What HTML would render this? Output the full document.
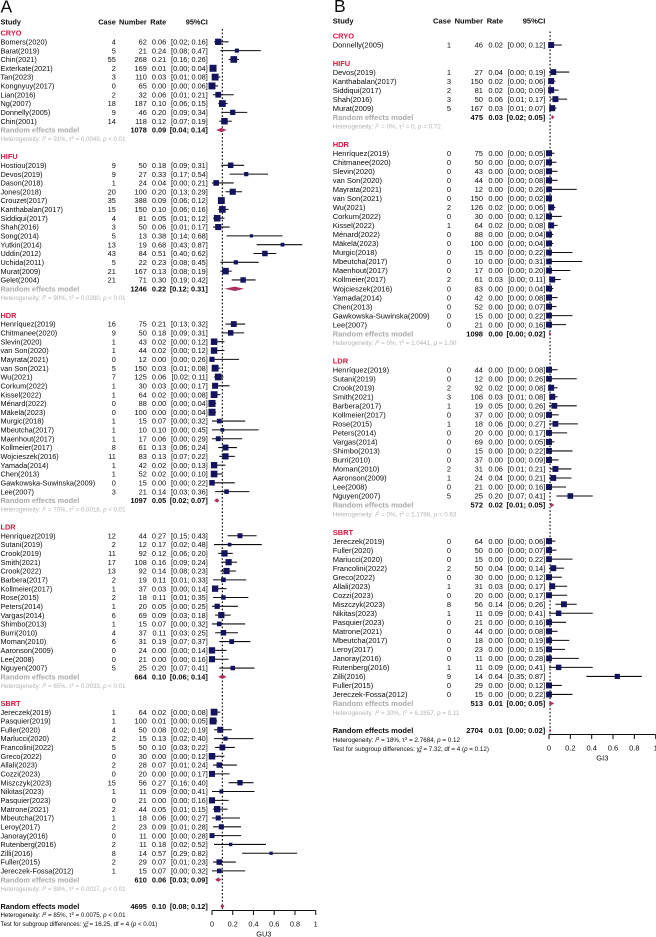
<!DOCTYPE html>
<html lang="en">
<head>
<meta charset="utf-8">
<title>Forest plots GU3 and GI3</title>
<style>
html,body{margin:0;padding:0;background:#fff;width:656px;height:937px;overflow:hidden}
svg{display:block;font-family:"Liberation Sans",sans-serif;filter:blur(.2px)}
text{fill:#0c0c0c;white-space:pre}
.b{font-weight:bold}
.hdr{font-weight:bold;fill:#0c0c0c}
.grp{font-weight:bold;fill:#d3153f}
.rem{font-weight:bold;fill:#aaaaaa}
.het{fill:#b4b4b4}
.hetAll{fill:#0c0c0c}
</style>
</head>
<body>
<svg id="figure" xmlns="http://www.w3.org/2000/svg" width="656" height="937" viewBox="0 0 656 937">
  <rect x="0" y="0" width="656" height="937" fill="#fff"></rect>
  <text x="0.5" y="12.6" font-size="17.5">A</text>
  <text x="334" y="12.2" font-size="17.5">B</text>
</svg>
<script>
/* ---------- Panel A (GU3) data ---------- */
const panelAGroups = ["CRYO", "HIFU", "HDR", "LDR", "SBRT"];
const panelAGroupSizes = [10, 14, 20, 16, 19];
const panelAStudies = [
"Bomers(2020)","Barat(2019)","Chin(2021)","Exterkate(2021)","Tan(2023)","Kongnyuy(2017)","Lian(2016)","Ng(2007)","Donnelly(2005)","Chin(2001)",
"Hostiou(2019)","Devos(2019)","Dason(2018)","Jones(2018)","Crouzet(2017)","Kanthabalan(2017)","Siddiqui(2017)","Shah(2016)","Song(2014)","Yutkin(2014)","Uddin(2012)","Uchida(2011)","Murat(2009)","Gelet(2004)",
"Henríquez(2019)","Chitmanee(2020)","Slevin(2020)","van Son(2020)","Mayrata(2021)","van Son(2021)","Wu(2021)","Corkum(2022)","Kissel(2022)","Ménard(2022)","Mäkelä(2023)","Murgic(2018)","Mbeutcha(2017)","Maenhout(2017)","Kollmeier(2017)","Wojcieszek(2016)","Yamada(2014)","Chen(2013)","Gawkowska-Suwinska(2009)","Lee(2007)",
"Henríquez(2019)","Sutani(2019)","Crook(2019)","Smith(2021)","Crook(2022)","Barbera(2017)","Kollmeier(2017)","Rose(2015)","Peters(2014)","Vargas(2014)","Shimbo(2013)","Burri(2010)","Moman(2010)","Aaronson(2009)","Lee(2008)","Nguyen(2007)",
"Jereczek(2019)","Pasquier(2019)","Fuller(2020)","Marlucci(2020)","Francolini(2022)","Greco(2022)","Allali(2023)","Cozzi(2023)","Miszczyk(2023)","Nikitas(2023)","Pasquier(2023)","Matrone(2021)","Mbeutcha(2017)","Leroy(2017)","Janoray(2016)","Rutenberg(2016)","Zilli(2016)","Fuller(2015)","Jereczek-Fossa(2012)"];
const panelACases = [4,5,55,2,3,0,2,18,9,14, 9,9,1,20,35,15,4,3,5,13,43,5,21,21, 16,9,1,1,0,5,7,1,1,0,0,1,1,1,8,11,1,1,0,3, 12,2,11,17,13,2,1,2,1,6,1,4,6,0,0,5, 1,1,4,2,5,0,2,0,15,1,0,2,1,2,0,2,8,2,1];
const panelANumbers = [62,21,268,169,110,65,32,187,46,118, 50,27,24,100,388,150,81,50,13,19,84,22,167,71, 75,50,43,44,12,150,125,30,64,88,100,15,10,17,61,83,42,52,15,21, 44,12,92,108,92,19,37,18,20,69,15,37,31,24,21,25, 64,100,50,15,50,30,28,20,56,11,21,44,18,23,11,11,14,29,15];
const panelARates = [.06,.24,.21,.01,.03,0,.06,.10,.20,.12, .18,.33,.04,.20,.09,.10,.05,.06,.38,.68,.51,.23,.13,.30, .21,.18,.02,.02,0,.03,.06,.03,.02,0,0,.07,.10,.06,.13,.13,.02,.02,0,.14, .27,.17,.12,.16,.14,.11,.03,.11,.05,.09,.07,.11,.19,0,0,.20, .02,.01,.08,.13,.10,0,.07,0,.27,.09,0,.05,.06,.09,0,.18,.57,.07,.07];
const panelALowers = [.02,.08,.16,0,.01,0,.01,.06,.09,.07, .09,.17,0,.13,.06,.06,.01,.01,.14,.43,.40,.08,.08,.19, .13,.09,0,0,0,.01,.02,0,0,0,0,0,0,0,.06,.07,0,0,0,.03, .15,.02,.06,.09,.08,.01,0,.01,0,.03,0,.03,.07,0,0,.07, 0,0,.02,.02,.03,0,.01,0,.16,0,0,.01,0,.01,0,.02,.29,.01,0];
const panelAUppers = [.16,.47,.26,.04,.08,.06,.21,.15,.34,.19, .31,.54,.21,.29,.12,.16,.12,.17,.68,.87,.62,.45,.19,.42, .32,.31,.12,.12,.26,.08,.11,.17,.08,.04,.04,.32,.45,.29,.24,.22,.13,.10,.22,.36, .43,.48,.20,.24,.23,.33,.14,.35,.25,.18,.32,.25,.37,.14,.16,.41, .08,.05,.19,.40,.22,.12,.24,.17,.40,.41,.16,.15,.27,.28,.28,.52,.82,.23,.32];
const panelAPoolNumbers = [1078,1246,1097,664,610];
const panelAPoolRates = [.09,.22,.05,.10,.06];
const panelAPoolLowers = [.04,.12,.02,.06,.03];
const panelAPoolUppers = [.14,.31,.07,.14,.09];
const panelAHetI2 = ["91%","90%","70%","65%","88%"];
const panelAHetTau2 = ["0.0049","0.0280","0.0018","0.0033","0.0027"];
const panelAHetP = ["< 0.01","< 0.01","< 0.01","< 0.01","< 0.01"];
const panelAOverall = [4695,.10,.08,.12];
const panelAOverallHet = ["85%","0.0075","< 0.01"];
const panelASubgroupTest = ["16.25","4","< 0.01"];
const panelATicks = [0,.2,.4,.6,.8,1];

/* ---------- Panel B (GI3) data ---------- */
const panelBGroups = ["CRYO", "HIFU", "HDR", "LDR", "SBRT"];
const panelBGroupSizes = [1, 5, 20, 15, 18];
const panelBStudies = [
"Donnelly(2005)",
"Devos(2019)","Kanthabalan(2017)","Siddiqui(2017)","Shah(2016)","Murat(2009)",
"Henríquez(2019)","Chitmanee(2020)","Slevin(2020)","van Son(2020)","Mayrata(2021)","van Son(2021)","Wu(2021)","Corkum(2022)","Kissel(2022)","Ménard(2022)","Mäkelä(2023)","Murgic(2018)","Mbeutcha(2017)","Maenhout(2017)","Kollmeier(2017)","Wojcieszek(2016)","Yamada(2014)","Chen(2013)","Gawkowska-Suwinska(2009)","Lee(2007)",
"Henríquez(2019)","Sutani(2019)","Crook(2019)","Smith(2021)","Barbera(2017)","Kollmeier(2017)","Rose(2015)","Peters(2014)","Vargas(2014)","Shimbo(2013)","Burri(2010)","Moman(2010)","Aaronson(2009)","Lee(2008)","Nguyen(2007)",
"Jereczek(2019)","Fuller(2020)","Mariucci(2020)","Francolini(2022)","Greco(2022)","Allali(2023)","Cozzi(2023)","Miszczyk(2023)","Nikitas(2023)","Pasquier(2023)","Matrone(2021)","Mbeutcha(2017)","Leroy(2017)","Janoray(2016)","Rutenberg(2016)","Zilli(2016)","Fuller(2015)","Jereczek-Fossa(2012)"];
const panelBCases = [1, 1,3,2,3,5, 0,0,0,0,0,0,2,0,1,0,0,0,0,0,2,0,0,0,0,0, 0,0,2,3,1,0,1,0,0,0,0,2,1,0,5, 0,0,0,2,0,1,0,8,1,0,0,0,0,0,1,9,0,0];
const panelBNumbers = [46, 27,150,81,50,167, 75,50,43,44,12,150,126,30,64,88,100,15,10,17,61,83,42,52,15,21, 44,12,92,108,19,37,18,20,69,15,37,31,24,21,25, 64,50,15,50,30,31,20,56,11,21,44,18,23,11,11,14,29,15];
const panelBRates = [.02, .04,.02,.02,.06,.03, 0,0,0,0,0,0,.02,0,.02,0,0,0,0,0,.03,0,0,0,0,0, 0,0,.02,.03,.05,0,.06,0,0,0,0,.06,.04,0,.20, 0,0,0,.04,0,.03,0,.14,.09,0,0,0,0,0,.09,.64,0,0];
const panelBLowers = [0, 0,0,0,.01,.01, 0,0,0,0,0,0,0,0,0,0,0,0,0,0,0,0,0,0,0,0, 0,0,0,.01,0,0,0,0,0,0,0,.01,0,0,.07, 0,0,0,0,0,0,0,.06,0,0,0,0,0,0,0,.35,0,0];
const panelBUppers = [.12, .19,.06,.09,.17,.07, .05,.07,.08,.08,.26,.02,.06,.12,.08,.04,.04,.22,.31,.20,.11,.04,.08,.07,.22,.16, .08,.26,.08,.08,.26,.09,.27,.17,.05,.22,.09,.21,.21,.16,.41, .06,.07,.22,.14,.12,.17,.17,.26,.41,.16,.08,.19,.15,.28,.41,.87,.12,.22];
const panelBPoolNumbers = [null,475,1098,572,513];
const panelBPoolRates = [null,.03,0,.02,.01];
const panelBPoolLowers = [null,.02,0,.01,0];
const panelBPoolUppers = [null,.05,.02,.05,.05];
const panelBHetI2 = [null,"0%","0%","0%","30%"];
const panelBHetTau2 = [null,"0","1.0441","1.1798","6.2857"];
const panelBHetP = [null,"= 0.72","= 1.00","= 0.63","= 0.11"];
const panelBOverall = [2704,.01,0,.02];
const panelBOverallHet = ["18%","2.7684","= 0.12"];
const panelBSubgroupTest = ["7.32","4","= 0.12"];
const panelBTicks = [0,.2,.4,.6,.8,1];

const SVGNS = "http://www.w3.org/2000/svg";
const figure = document.getElementById("figure");

function mk(parent, tag, attrs) {
  const el = document.createElementNS(SVGNS, tag);
  for (const k in attrs) el.setAttribute(k, attrs[k]);
  parent.appendChild(el);
  return el;
}
function txt(parent, x, y, s, fs, anchor, cls) {
  const el = mk(parent, "text", {x: x, y: y + fs * 0.36, "font-size": fs, "text-anchor": anchor || "start"});
  if (cls) el.setAttribute("class", cls);
  el.textContent = s;
  return el;
}
function ciText(l, u) { return "[" + l.toFixed(2) + "; " + u.toFixed(2) + "]"; }
function hetMarkup(i2, tau, p, fs) {
  const sup = 'font-size="' + (fs * 0.72) + '"';
  return 'Heterogeneity: <tspan font-style="italic">I</tspan><tspan dy="-2" ' + sup + '>2</tspan><tspan dy="2"> = ' + i2 +
    ', τ</tspan><tspan dy="-2" ' + sup + '>2</tspan><tspan dy="2"> = ' + tau + ', </tspan><tspan font-style="italic">p</tspan> ' + p;
}

function drawPanel(cfg, d) {
  const panel = mk(figure, "g", {});
  
  
  const sx = v => cfg.x0 + v * (cfg.x1 - cfg.x0);
  const fs = cfg.fs, hs = cfg.hetFs;
  const rowY = i => cfg.y0 + i * cfg.pitch;

  /* header */
  const h1 = txt(panel, cfg.nameX, cfg.headY, "Study", fs, "start", "hdr");
  
  
  const h2 = txt(panel, cfg.caseX, cfg.headY, "Case", fs, "end", "hdr");
  
  
  const h3 = txt(panel, cfg.numX, cfg.headY, "Number", fs, "end", "hdr");
  
  
  const h4 = txt(panel, cfg.rateX, cfg.headY, "Rate", fs, "end", "hdr");
  
  
  const h5 = txt(panel, cfg.ciX, cfg.headY, "95%CI", fs, "end", "hdr");
  
  

  /* reference line at the overall estimate */
  const ref = mk(panel, "line", {x1: sx(d.overall[1]), x2: sx(d.overall[1]), y1: cfg.refTop, y2: cfg.axisY, stroke: "#111", "stroke-width": 1.2, "stroke-dasharray": "1.6 2"});
  
  

  let row = 0, k = 0;
  d.groups.forEach((g, gi) => {
    const title = txt(panel, cfg.nameX, rowY(row), g, fs, "start", "grp");
    
    
    row++;
    for (let s = 0; s < d.sizes[gi]; s++, k++, row++) {
      const y = rowY(row);
      const r = mk(panel, "g", {});
      
      
      const a = txt(r, cfg.nameX, y, d.studies[k], fs);
      
      
      const b = txt(r, cfg.caseX, y, String(d.cases[k]), fs, "end");
      
      
      const c = txt(r, cfg.numX, y, String(d.numbers[k]), fs, "end");
      
      
      const e = txt(r, cfg.rateX, y, d.rates[k].toFixed(2), fs, "end");
      
      
      const f = txt(r, cfg.ciX, y, ciText(d.lowers[k], d.uppers[k]), fs, "end");
      
      
      const ci = mk(r, "line", {x1: sx(d.lowers[k]), x2: sx(d.uppers[k]), y1: y, y2: y, stroke: "#0c0c0c", "stroke-width": 1.05});
      
      
      const h = (d.uppers[k] - d.lowers[k]) / 3.92;
      const size = cfg.sqK * Math.sqrt(1 / (cfg.sqT + h * h));
      const sq = mk(r, "rect", {x: sx(d.rates[k]) - size / 2, y: y - size / 2, width: size, height: size, fill: "#14145e"});
      
      
    }
    if (d.poolNumbers[gi] !== null) {
      const y = rowY(row);
      const pr = mk(panel, "g", {});
      
      
      const a = txt(pr, cfg.nameX, y, "Random effects model", fs, "start", "rem");
      
      
      const c = txt(pr, cfg.numX, y, String(d.poolNumbers[gi]), fs, "end", "b");
      
      
      const e = txt(pr, cfg.rateX, y, d.poolRates[gi].toFixed(2), fs, "end", "b");
      
      
      const f = txt(pr, cfg.ciX, y, ciText(d.poolLowers[gi], d.poolUppers[gi]), fs, "end", "b");
      
      
      const dm = mk(pr, "polygon", {points: sx(d.poolLowers[gi]) + "," + y + " " + sx(d.poolRates[gi]) + "," + (y - 2.2) + " " + sx(d.poolUppers[gi]) + "," + y + " " + sx(d.poolRates[gi]) + "," + (y + 2.2), fill: "#ad3060"});
      
      
      row++;
      const het = txt(panel, cfg.nameX, rowY(row), "", hs, "start", "het");
      het.innerHTML = hetMarkup(d.hetI2[gi], d.hetTau2[gi], d.hetP[gi], hs);
      
      
      row++;
    }
    row++;
  });

  /* overall row */
  const y = rowY(row);
  const oa = txt(panel, cfg.nameX, y, "Random effects model", fs, "start", "b");
  
  
  const ob = txt(panel, cfg.numX, y, String(d.overall[0]), fs, "end", "b");
  
  
  const oc = txt(panel, cfg.rateX, y, d.overall[1].toFixed(2), fs, "end", "b");
  
  
  const od = txt(panel, cfg.ciX, y, ciText(d.overall[2], d.overall[3]), fs, "end", "b");
  
  
  const dm = mk(panel, "polygon", {points: sx(d.overall[2]) + "," + y + " " + sx(d.overall[1]) + "," + (y - 2.2) + " " + sx(d.overall[3]) + "," + y + " " + sx(d.overall[1]) + "," + (y + 2.2), fill: "#ad3060"});
  
  
  const oh = txt(panel, cfg.nameX, rowY(row + 1), "", hs, "start", "hetAll");
  oh.innerHTML = hetMarkup(d.overallHet[0], d.overallHet[1], d.overallHet[2], hs);
  
  
  const ot = txt(panel, cfg.nameX, rowY(row + 2), "", hs, "start", "hetAll");
  ot.innerHTML = 'Test for subgroup differences: χ<tspan dy="-2" font-size="' + (hs * 0.72) + '">2</tspan><tspan dy="3.6" dx="-3.3" font-size="' + (hs * 0.72) + '">' + d.test[1] + '</tspan><tspan dy="-1.6"> = ' + d.test[0] + ', df = ' + d.test[1] + ' (</tspan><tspan font-style="italic">p</tspan> ' + d.test[2] + ')';
  
  

  /* x axis */
  const axis = mk(panel, "g", {});
  
  
  const base = mk(axis, "line", {x1: sx(d.ticks[0]), x2: sx(d.ticks[d.ticks.length - 1]), y1: cfg.axisY, y2: cfg.axisY, stroke: "#111", "stroke-width": 1.05});
  
  
  d.ticks.forEach(t => {
    const tk = mk(axis, "line", {x1: sx(t), x2: sx(t), y1: cfg.axisY, y2: cfg.axisY + 4.5, stroke: "#111", "stroke-width": 1.05});
    
    
    const lb = txt(axis, sx(t), cfg.tickLabelY, String(t), fs, "middle");
    
    
  });
  const xt = txt(axis, (sx(0) + sx(1)) / 2, cfg.axisTitleY, cfg.axisTitle, fs, "middle");
  
  
}

drawPanel(
  {name: "forest-plot-gu3", fs: 7.35, hetFs: 6.15, nameX: 0.5, caseX: 115.8, numX: 146.8, rateX: 166.2, ciX: 207.8,
   x0: 212, x1: 315.7, y0: 33, pitch: 8.82, headY: 21.7, refTop: 29, axisY: 910.5, tickLabelY: 924, axisTitleY: 934,
   axisTitle: "GU3", sqK: 0.5, sqT: 0.005},
  {groups: panelAGroups, sizes: panelAGroupSizes, studies: panelAStudies, cases: panelACases, numbers: panelANumbers,
   rates: panelARates, lowers: panelALowers, uppers: panelAUppers, poolNumbers: panelAPoolNumbers, poolRates: panelAPoolRates,
   poolLowers: panelAPoolLowers, poolUppers: panelAPoolUppers, hetI2: panelAHetI2, hetTau2: panelAHetTau2, hetP: panelAHetP,
   overall: panelAOverall, overallHet: panelAOverallHet, test: panelASubgroupTest, ticks: panelATicks}
);
drawPanel(
  {name: "forest-plot-gi3", fs: 7.52, hetFs: 6.25, nameX: 332.7, caseX: 451, numX: 483, rateX: 503, ciX: 545.3,
   x0: 549, x1: 655.7, y0: 36, pitch: 9.02, headY: 21, refTop: 31.5, axisY: 734.5, tickLabelY: 748, axisTitleY: 757.7,
   axisTitle: "GI3", sqK: 1.35, sqT: 0.05},
  {groups: panelBGroups, sizes: panelBGroupSizes, studies: panelBStudies, cases: panelBCases, numbers: panelBNumbers,
   rates: panelBRates, lowers: panelBLowers, uppers: panelBUppers, poolNumbers: panelBPoolNumbers, poolRates: panelBPoolRates,
   poolLowers: panelBPoolLowers, poolUppers: panelBPoolUppers, hetI2: panelBHetI2, hetTau2: panelBHetTau2, hetP: panelBHetP,
   overall: panelBOverall, overallHet: panelBOverallHet, test: panelBSubgroupTest, ticks: panelBTicks}
);
</script>
</body>
</html>
